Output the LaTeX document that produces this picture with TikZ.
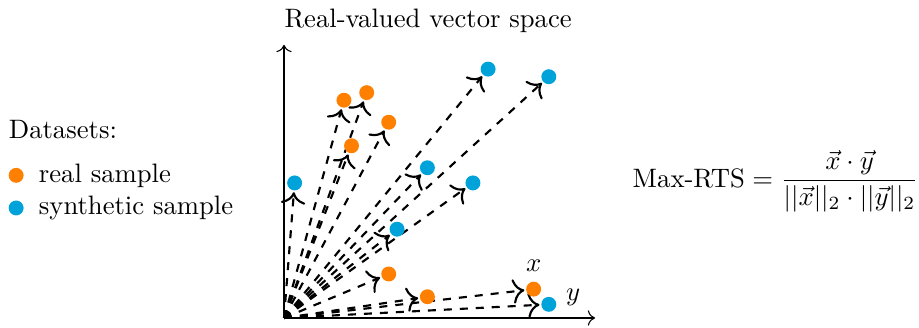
\documentclass[tikz,border=0pt]{standalone}
\usepackage{amsmath}
\usetikzlibrary{arrows.meta,positioning,backgrounds}
\definecolor{realorange}{RGB}{255,128,0}
\definecolor{synthblue}{RGB}{0,163,217}

\begin{document}
\begin{tikzpicture}[dot/.style={circle,inner sep=0pt,minimum size=5.6pt},real/.style={dot,fill=realorange},synth/.style={dot,fill=synthblue},vec/.style={-{To[scale=1.3]},thick,dashed,shorten >=0.5pt}]
\useasboundingbox (-3.743,-0.119) rectangle (8.369,4.191);
% axes
\coordinate (o) at (0,0);
\coordinate (xend) at (4.1,0);
\coordinate (yend) at (0,3.6);
\draw[-{To[scale=1.1]}] (o) -- (xend);
\draw[-{To[scale=1.1]}] (o) -- (yend);
\node (title) at (1.9,3.92) {Real-valued vector space};
% synthetic samples
\node[synth] (s1) at (0.14,1.78) {};
\node[synth] (s2) at (2.69,3.28) {};
\node[synth] (s3) at (3.49,3.18) {};
\node[synth] (s4) at (1.89,1.98) {};
\node[synth] (s5) at (2.49,1.78) {};
\node[synth] (s6) at (1.49,1.17) {};
\node[synth,label={[yshift=2.6pt]right:$y$}] (s7) at (3.49,0.18) {};
% real samples
\node[real] (r1) at (0.79,2.87) {};
\node[real] (r2) at (1.09,2.97) {};
\node[real] (r3) at (1.38,2.58) {};
\node[real] (r4) at (0.89,2.27) {};
\node[real] (r5) at (1.38,0.58) {};
\node[real] (r6) at (1.89,0.28) {};
\node[real,label=above:$x$] (r7) at (3.29,0.38) {};
\begin{scope}[on background layer]
\foreach \i in {1,...,7} {
  \draw[vec] (o) -- (s\i);
  \draw[vec] (o) -- (r\i);
}
\end{scope}
% legend
\node[anchor=west] (legend) at (-3.75,2.48) {Datasets:};
\node[real] (lreal) at (-3.53,1.88) {};
\node[right=2pt of lreal] (lrealtxt) {real sample};
\node[synth] (lsynth) at (-3.53,1.45) {};
\node[right=2pt of lsynth] (lsynthtxt) {synthetic sample};
% similarity
\node (rts) at (6.48,1.8) {$\text{Max-RTS} = \dfrac{\vec{x}\cdot\vec{y}}{||\vec{x}||_2\cdot||\vec{y}||_2}$};
\end{tikzpicture}
\end{document}
